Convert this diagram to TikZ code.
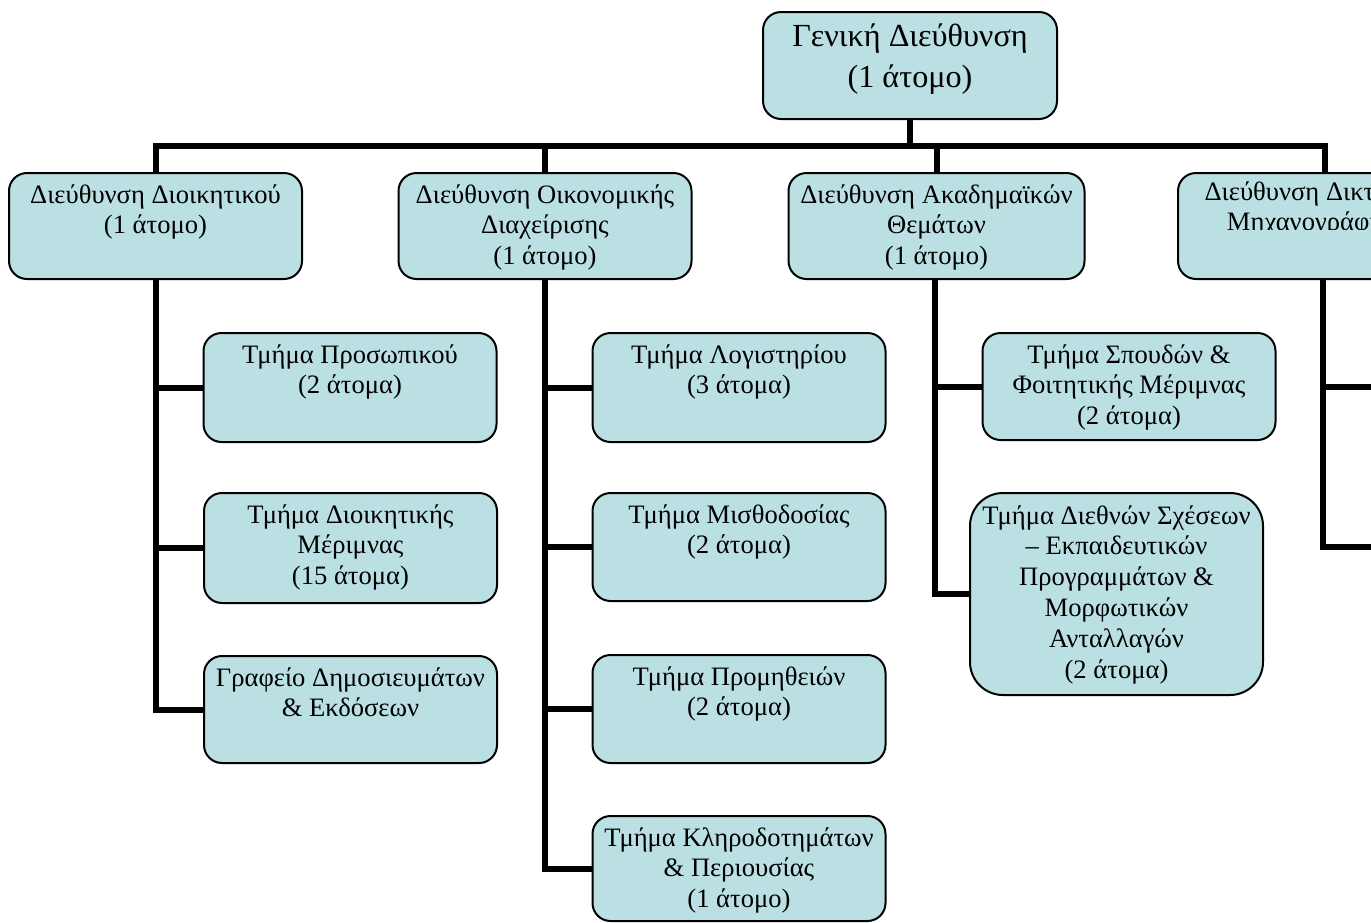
\documentclass[tikz,border=0pt]{standalone}
\usepackage{fontspec}
\setmainfont{Liberation Serif}
\definecolor{boxfill}{RGB}{187,224,227}
\tikzset{
  orgbox/.style={draw=black, line width=2pt, fill=boxfill, rounded corners=18pt,
    minimum width=293pt, minimum height=107pt, inner sep=0pt},
  lbl/.style={inner sep=0pt, anchor=base, font=\fontsize{26.6}{30.8}\selectfont},
  toplbl/.style={inner sep=0pt, anchor=base, font=\fontsize{32.2}{41}\selectfont},
  conn/.style={draw=black, line width=6pt, line join=miter}
}
\newcommand\boxlines[1]{\begin{tabular}[t]{@{}c@{}}#1\end{tabular}}
\begin{document}
\begin{tikzpicture}[x=1pt,y=-1pt]
\useasboundingbox (0,0) rectangle (1371,922);
\fill[white] (0,0) rectangle (1371,922);
\clip (0,0) rectangle (1371,922);

% boxes
\node[orgbox, minimum width=294pt] (gd) at (910,65.5) {};
\node[orgbox, minimum height=106pt] (d1) at (155.5,226) {};
\node[orgbox, minimum height=106pt] (d2) at (545,226) {};
\node[orgbox, minimum height=106pt, minimum width=296pt] (d3) at (936.5,226) {};
\node[orgbox, minimum height=106pt] (d4) at (1324.5,226) {};

\node[orgbox, minimum height=109pt] (t11) at (350,387.5) {};
\node[orgbox, minimum height=110pt] (t12) at (350.5,548) {};
\node[orgbox] (t13) at (350.5,709.5) {};

\node[orgbox, minimum height=109pt] (t21) at (739,387.5) {};
\node[orgbox, minimum height=108pt] (t22) at (739,547) {};
\node[orgbox, minimum height=108pt] (t23) at (739,709) {};
\node[orgbox, minimum height=105pt] (t24) at (739,868.5) {};

\node[orgbox] (t31) at (1129,386.5) {};
\node[orgbox, minimum height=202pt, rounded corners=33pt] (t32) at (1116.5,594) {};

% connectors
\coordinate (bar) at (910,146);
\coordinate (r1) at (1400,387);
\coordinate (r2) at (1400,547);
\draw[conn] (gd.south) -- (bar);
\draw[conn] (d1.north) |- (bar) -| (d4.north);
\draw[conn] (d2.north) -- (d2.north |- bar);
\draw[conn] (d3.north) -- (d3.north |- bar);

\draw[conn] (d1.south) |- (t13.west);
\draw[conn] (d1.south |- t11.west) -- (t11.west);
\draw[conn] (d1.south |- t12.west) -- (t12.west);

\draw[conn] (d2.south) |- (t24.west);
\draw[conn] (d2.south |- t21.west) -- (t21.west);
\draw[conn] (d2.south |- t22.west) -- (t22.west);
\draw[conn] (d2.south |- t23.west) -- (t23.west);

\draw[conn] ([xshift=-2pt]d3.south) |- (t32.west);
\draw[conn] ([xshift=-2pt]d3.south |- t31.west) -- (t31.west);

\draw[conn] ([xshift=-1.5pt]d4.south) |- (r2);
\draw[conn] ([xshift=-1.5pt]d4.south |- r1) -- (r1);

% texts
\node[toplbl] (gdl) at ([yshift=-35pt]gd.north) {\boxlines{Γενική Διεύθυνση\\(1 άτομο)}};
\node[lbl] (d1l) at ([yshift=-31pt]d1.north) {\boxlines{Διεύθυνση Διοικητικού\\(1 άτομο)}};
\node[lbl] (d2l) at ([yshift=-31pt]d2.north) {\boxlines{Διεύθυνση Οικονομικής\\Διαχείρισης\\(1 άτομο)}};
\node[lbl] (d3l) at ([yshift=-31pt]d3.north) {\boxlines{Διεύθυνση Ακαδημαϊκών\\Θεμάτων\\(1 άτομο)}};
\begin{scope}
\clip (1150,173) rectangle (1371,229);
\node[lbl] (d4l) at ([yshift=-28pt]d4.north) {\boxlines{Διεύθυνση Δικτύων \&\\Μηχανογράφησης}};
\end{scope}

\node[lbl] (t11l) at ([yshift=-31pt]t11.north) {\boxlines{Τμήμα Προσωπικού\\(2 άτομα)}};
\node[lbl] (t12l) at ([yshift=-31pt]t12.north) {\boxlines{Τμήμα Διοικητικής\\Μέριμνας\\(15 άτομα)}};
\node[lbl] (t13l) at ([yshift=-31pt]t13.north) {\boxlines{Γραφείο Δημοσιευμάτων\\\& Εκδόσεων}};

\node[lbl] (t21l) at ([yshift=-31pt]t21.north) {\boxlines{Τμήμα Λογιστηρίου\\(3 άτομα)}};
\node[lbl] (t22l) at ([yshift=-31pt]t22.north) {\boxlines{Τμήμα Μισθοδοσίας\\(2 άτομα)}};
\node[lbl] (t23l) at ([yshift=-31pt]t23.north) {\boxlines{Τμήμα Προμηθειών\\(2 άτομα)}};
\node[lbl] (t24l) at ([yshift=-31pt]t24.north) {\boxlines{Τμήμα Κληροδοτημάτων\\\& Περιουσίας\\(1 άτομο)}};

\node[lbl] (t31l) at ([yshift=-31pt]t31.north) {\boxlines{Τμήμα Σπουδών \&\\Φοιτητικής Μέριμνας\\(2 άτομα)}};
\node[lbl] (t32l) at ([yshift=-32pt]t32.north) {\boxlines{Τμήμα Διεθνών Σχέσεων\\– Εκπαιδευτικών\\Προγραμμάτων \&\\Μορφωτικών\\Ανταλλαγών\\(2 άτομα)}};
\end{tikzpicture}
\end{document}
